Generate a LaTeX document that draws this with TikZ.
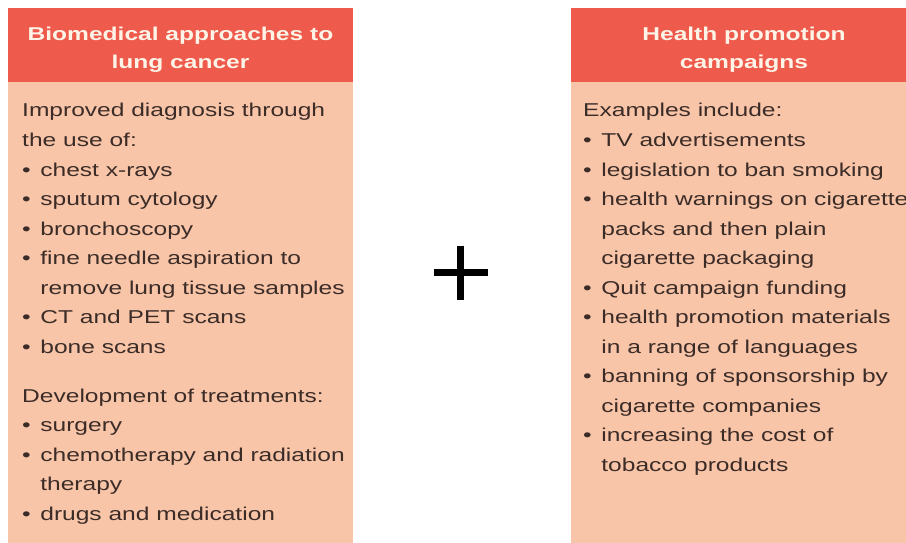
\documentclass[tikz,border=0pt]{standalone}
\usepackage{fontspec}
\usepackage{graphicx}
\setmainfont{Liberation Sans}
\definecolor{hdrred}{HTML}{EE5A4B}
\definecolor{peach}{HTML}{F9C5A8}
\definecolor{hdrtxt}{HTML}{FDF3E7}
\definecolor{bodytxt}{HTML}{3B2C28}
\newcommand{\sx}[1]{\scalebox{1.32}[1]{#1}}
\newcommand{\bul}{\textbullet\hspace{0.39em}}
\newcommand{\ind}{\phantom{\textbullet}\hspace{0.39em}}
\tikzset{
  hdrbox/.style={fill=hdrred, draw=none},
  bodybox/.style={fill=peach, draw=none},
  hdrline/.style={anchor=base, inner sep=0pt, text=hdrtxt, font=\fontsize{18.6}{28}\selectfont\bfseries},
  txtline/.style={anchor=base west, inner sep=0pt, text=bodytxt, font=\fontsize{18.6}{29.5}\selectfont},
  plusbar/.style={line width=7pt, black}
}
\begin{document}
\begin{tikzpicture}[x=1pt,y=-1pt]
\useasboundingbox (0,0) rectangle (906,543);
\clip (0,0) rectangle (906,543);
\fill[white] (0,0) rectangle (906,543);
% left box
\path[bodybox] (8,82) rectangle (352.5,543);
\path[hdrbox] (8,8) rectangle (352.5,82);
% right box
\path[bodybox] (571,82) rectangle (917,543);
\path[hdrbox] (571,8) rectangle (917,82);
% headers
\node[hdrline] (lh1) at (180.5,40.7) {\sx{Biomedical approaches to}};
\node[hdrline] (lh2) at (180.5,69) {\sx{lung cancer}};
\node[hdrline] (rh1) at (744,40.5) {\sx{Health promotion}};
\node[hdrline] (rh2) at (744,69) {\sx{campaigns}};
% left text
\node[txtline] (l1) at (22,117) {\sx{Improved diagnosis through}};
\node[txtline] (l2) at (22,146.5) {\sx{the use of:}};
\node[txtline] (l3) at (22,176) {\sx{\bul chest x-rays}};
\node[txtline] (l4) at (22,205.5) {\sx{\bul sputum cytology}};
\node[txtline] (l5) at (22,235) {\sx{\bul bronchoscopy}};
\node[txtline] (l6) at (22,264.5) {\sx{\bul fine needle aspiration to}};
\node[txtline] (l7) at (22,294) {\sx{\ind remove lung tissue samples}};
\node[txtline] (l8) at (22,323.5) {\sx{\bul CT and PET scans}};
\node[txtline] (l9) at (22,353) {\sx{\bul bone scans}};
\node[txtline] (l10) at (22,402) {\sx{Development of treatments:}};
\node[txtline] (l11) at (22,431.5) {\sx{\bul surgery}};
\node[txtline] (l12) at (22,461) {\sx{\bul chemotherapy and radiation}};
\node[txtline] (l13) at (22,490.5) {\sx{\ind therapy}};
\node[txtline] (l14) at (22,520) {\sx{\bul drugs and medication}};
% right text
\node[txtline] (r1) at (583,117) {\sx{Examples include:}};
\node[txtline] (r2) at (583,146.5) {\sx{\bul TV advertisements}};
\node[txtline] (r3) at (583,176) {\sx{\bul legislation to ban smoking}};
\node[txtline] (r4) at (583,205.5) {\sx{\bul health warnings on cigarette}};
\node[txtline] (r5) at (583,235) {\sx{\ind packs and then plain}};
\node[txtline] (r6) at (583,264.5) {\sx{\ind cigarette packaging}};
\node[txtline] (r7) at (583,294) {\sx{\bul Quit campaign funding}};
\node[txtline] (r8) at (583,323.5) {\sx{\bul health promotion materials}};
\node[txtline] (r9) at (583,353) {\sx{\ind in a range of languages}};
\node[txtline] (r10) at (583,382.5) {\sx{\bul banning of sponsorship by}};
\node[txtline] (r11) at (583,412) {\sx{\ind cigarette companies}};
\node[txtline] (r12) at (583,441.5) {\sx{\bul increasing the cost of}};
\node[txtline] (r13) at (583,471) {\sx{\ind tobacco products}};
% plus sign
\coordinate (pl) at (434,272.7);
\coordinate (pr) at (488,272.7);
\coordinate (pt) at (460.5,245.5);
\coordinate (pb) at (460.5,300);
\draw[plusbar] (pl) -- (pr);
\draw[plusbar] (pt) -- (pb);
\end{tikzpicture}
\end{document}
